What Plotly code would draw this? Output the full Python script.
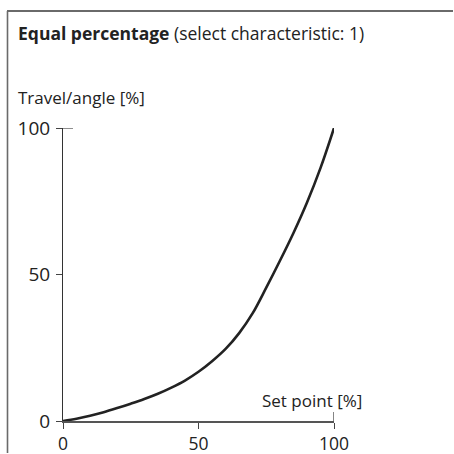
import plotly.graph_objects as go

# Equal-percentage valve characteristic: set point vs. travel/angle
set_point = [0, 5, 10, 15, 20, 25, 30, 35, 40, 45, 50, 55, 60, 65, 70, 75, 80, 85, 90, 95, 100]
travel = [0, 0.8, 1.8, 3.0, 4.4, 5.9, 7.5, 9.3, 11.4, 13.8, 16.8, 20.4, 24.6, 30.0, 36.8, 45.5, 54.6, 64.1, 74.5, 86.3, 100]
tick_vals = [0, 50, 100]
tick_text = ["0", "50", "100"]

FONT = "Open Sans"
INK = "#222222"
FRAME = "#6a6a6a"

# plot-area geometry in pixels (454x454 page)
W = H = 454
L, R, T, B = 63, 334, 128, 421
pw, ph = R - L, B - T


def px(x):
    return (x - L) / pw


def py(y):
    return (B - y) / ph


fig = go.Figure()
fig.add_trace(go.Scatter(
    x=set_point, y=travel, mode="lines",
    line=dict(color=INK, width=2.6, shape="spline", smoothing=1.0),
    hoverinfo="skip", showlegend=False,
))

axis_common = dict(
    range=[0, 100], tickvals=tick_vals, ticktext=tick_text,
    showgrid=False, zeroline=False, showline=True, automargin=False,
    ticks="outside", tickcolor="#444444", fixedrange=True,
)
fig.update_xaxes(**axis_common, linecolor="#555555", linewidth=1.5, tickwidth=1.3, ticklen=6,
                 tickfont=dict(family=FONT, size=17.5, color=INK))
fig.update_yaxes(**axis_common, linecolor="#333333", linewidth=1.1, tickwidth=1.2,
                 ticklen=6, ticklabelstandoff=2,
                 tickfont=dict(family=FONT, size=19, color=INK))

shapes = [
    # frame: top and left edges
    dict(type="line", xref="paper", yref="paper", x0=px(7), x1=px(453), y0=py(11), y1=py(11),
         line=dict(color=FRAME, width=2.2)),
    dict(type="line", xref="paper", yref="paper", x0=px(7.5), x1=px(7.5), y0=py(11), y1=py(453),
         line=dict(color=FRAME, width=1.6)),
    # end ticks extending into the plot area
    dict(type="line", xref="x", yref="paper", x0=100, x1=100, y0=0, y1=9 / ph,
         line=dict(color="#444444", width=1.3)),
    dict(type="line", xref="paper", yref="y", x0=0, x1=10 / pw, y0=100, y1=100,
         line=dict(color="#444444", width=1.2)),
]

annotations = [
    dict(text="<b>Equal percentage</b> (select characteristic: 1)",
         x=px(16), y=py(33), xref="paper", yref="paper", xanchor="left", yanchor="middle",
         showarrow=False, font=dict(family=FONT, size=17.5, color=INK)),
    dict(text="Travel/angle [%]",
         x=px(16), y=py(97), xref="paper", yref="paper", xanchor="left", yanchor="middle",
         showarrow=False, font=dict(family=FONT, size=17, color=INK)),
    dict(text="Set point [%]",
         x=px(260), y=py(400), xref="paper", yref="paper", xanchor="left", yanchor="middle",
         showarrow=False, font=dict(family=FONT, size=17, color=INK)),
]

fig.update_layout(
    width=W, height=H,
    margin=dict(l=L, r=W - R, t=T, b=H - B, autoexpand=False),
    paper_bgcolor="white", plot_bgcolor="white",
    shapes=shapes, annotations=annotations,
)

fig.write_html("out.html", config={"displayModeBar": False})
